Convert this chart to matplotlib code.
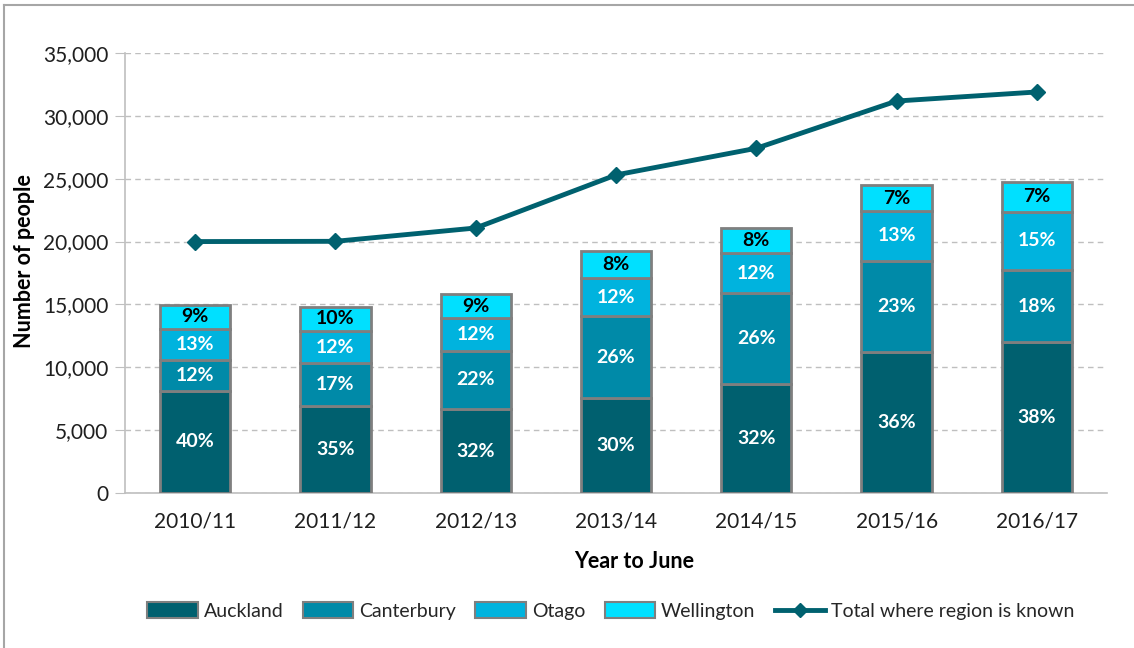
import matplotlib
matplotlib.use("Agg")
import matplotlib.pyplot as plt
from matplotlib.lines import Line2D
from matplotlib.patches import Patch
from matplotlib.ticker import FuncFormatter
import numpy as np

plt.rcParams['font.family'] = ['Lato', 'DejaVu Sans']

categories = ["2010/11", "2011/12", "2012/13", "2013/14", "2014/15", "2015/16", "2016/17"]
auckland = [8140, 6950, 6680, 7530, 8700, 11220, 11990]
canterbury = [2410, 3370, 4620, 6570, 7190, 7260, 5750]
otago = [2500, 2570, 2600, 2980, 3180, 3950, 4640]
wellington = [1930, 1930, 1930, 2190, 2030, 2070, 2390]
total_known = [20000, 20020, 21080, 25300, 27420, 31180, 31900]

pct_auckland = ["40%", "35%", "32%", "30%", "32%", "36%", "38%"]
pct_canterbury = ["12%", "17%", "22%", "26%", "26%", "23%", "18%"]
pct_otago = ["13%", "12%", "12%", "12%", "12%", "13%", "15%"]
pct_wellington = ["9%", "10%", "9%", "8%", "8%", "7%", "7%"]

series = [
    ("Auckland", auckland, pct_auckland, "#00606F", "white"),
    ("Canterbury", canterbury, pct_canterbury, "#008AA8", "white"),
    ("Otago", otago, pct_otago, "#00B3DE", "white"),
    ("Wellington", wellington, pct_wellington, "#00E0FF", "black"),
]
line_color = "#00616F"

W, H = 1134, 648
fig = plt.figure(figsize=(W / 100, H / 100), dpi=100)
ax = fig.add_axes([125 / W, 1 - 493 / H, (1107 - 125) / W, (493 - 53) / H])

x = np.arange(len(categories))
bottom = np.zeros(len(categories))
for name, vals, labels, color, tcolor in series:
    vals = np.array(vals, dtype=float)
    ax.bar(x, vals, bottom=bottom, width=0.5, color=color, edgecolor="#7F7F7F",
           linewidth=2, zorder=3)
    for xi, b, v, lab in zip(x, bottom, vals, labels):
        ax.text(xi, b + v / 2, lab, ha="center", va="center", color=tcolor,
                fontsize=14, fontweight="bold", zorder=5)
    bottom += vals

ax.plot(x, total_known, color=line_color, linewidth=3.5, marker="D",
        markersize=8, zorder=6)

ax.set_xlim(-0.5, len(categories) - 0.5)
ax.set_ylim(0, 35000)
ax.set_yticks(np.arange(0, 35001, 5000))
ax.yaxis.set_major_formatter(FuncFormatter(lambda v, p: f"{int(v):,}"))
ax.set_xticks(x)
ax.set_xticklabels(categories)
ax.tick_params(axis="y", length=7, color="#BFBFBF", labelsize=15, pad=5, labelcolor="#1F1F1F")
ax.tick_params(axis="x", length=0, labelsize=15, pad=13, labelcolor="#1F1F1F")
ax.grid(axis="y", color="#BFBFBF", linestyle=(0, (4, 3)), linewidth=1, zorder=0)
for s in ["top", "right"]:
    ax.spines[s].set_visible(False)
ax.spines["left"].set_color("#BFBFBF")
ax.spines["bottom"].set_color("#BFBFBF")
ax.spines["left"].set_linewidth(1.2)
ax.spines["bottom"].set_linewidth(1.2)

fig.text(25 / W, 1 - 261 / H, "Number of people", rotation=90, ha="center", va="center",
         fontsize=15.5, fontweight="bold", color="black")
fig.text(634 / W, 1 - 562 / H, "Year to June", ha="center", va="center",
         fontsize=15.5, fontweight="bold", color="black")

handles = [Patch(facecolor=c, edgecolor="#7F7F7F", linewidth=1.5, label=n)
           for n, _, _, c, _ in series]
handles.append(Line2D([0], [0], color=line_color, linewidth=3.5, marker="D",
                      markersize=7, label="Total where region is known"))
fig.legend(handles=handles, loc="center", bbox_to_anchor=(611 / W, 1 - 611 / H),
           ncol=5, frameon=False, fontsize=14, handlelength=2.6, handleheight=0.9,
           handletextpad=0.3, columnspacing=1.0, labelcolor="#262626")

# outer border (top and left only)
fig.add_artist(Line2D([3.5 / W, 3.5 / W], [0, 1 - 4.5 / H], transform=fig.transFigure,
                      color="#A6A6A6", linewidth=1.5))
fig.add_artist(Line2D([3.5 / W, 1], [1 - 4.5 / H, 1 - 4.5 / H], transform=fig.transFigure,
                      color="#A6A6A6", linewidth=1.5))

fig.savefig("out.png", dpi=100)
